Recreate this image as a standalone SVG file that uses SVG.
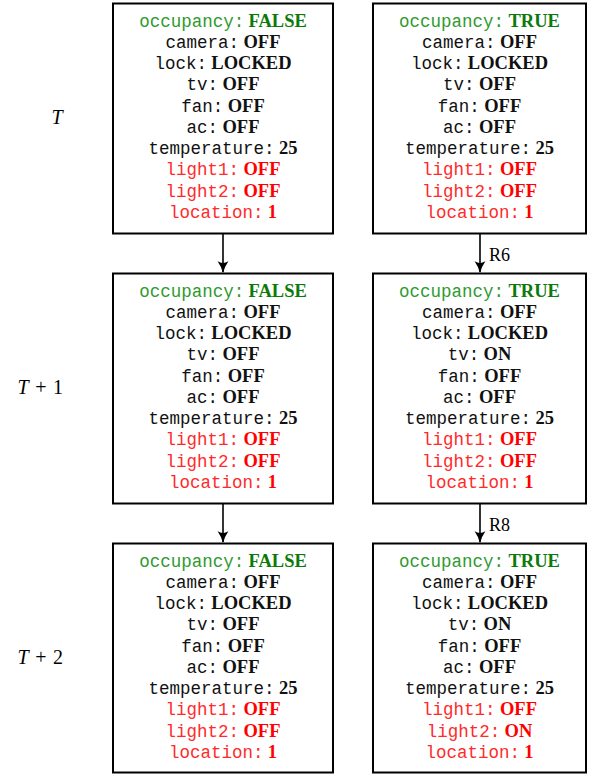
<svg xmlns="http://www.w3.org/2000/svg" width="590" height="774" viewBox="0 0 590 774">
<style>
.box{fill:#fff;stroke:#000;stroke-width:2}
.t{font-size:17.5px;text-anchor:middle}
.k{font-family:"Liberation Mono","DejaVu Sans Mono",monospace}
.v{font-family:"Liberation Serif","Times New Roman",serif;font-weight:bold;font-size:18.5px}
.g{fill:#2f9a2f}.gv{fill:#0b7a0b}
.r{fill:#ff2a2a}.rv{fill:#ff0000}
.b{fill:#111}
.lbl{font-family:"Liberation Serif","Times New Roman",serif;font-size:20px;text-anchor:middle}
.conn{stroke:#000;stroke-width:1.6;fill:none}
.rl{font-family:"Liberation Serif","Times New Roman",serif;font-size:18px}
</style>
<defs>
<marker id="ah" viewBox="0 0 10 10" refX="9" refY="5" markerWidth="12" markerHeight="12" markerUnits="userSpaceOnUse" orient="auto">
<path d="M0,0.5 Q5,4 10,5 Q5,6 0,9.5 Q3,5 0,0.5Z" fill="#000"/>
</marker>
</defs>
<g id="labels">
<text class="lbl" x="57" y="124" font-style="italic">T</text>
<text class="lbl" y="394"><tspan x="23" font-style="italic">T</tspan><tspan x="41">+</tspan><tspan x="58">1</tspan></text>
<text class="lbl" y="664"><tspan x="23" font-style="italic">T</tspan><tspan x="41">+</tspan><tspan x="58">2</tspan></text>
</g>
<g id="connectors">
<line class="conn" x1="223" y1="234" x2="223" y2="272" marker-end="url(#ah)"/>
<line class="conn" x1="223" y1="504" x2="223" y2="542" marker-end="url(#ah)"/>
<line class="conn" x1="480" y1="234" x2="480" y2="272" marker-end="url(#ah)"/>
<line class="conn" x1="480" y1="504" x2="480" y2="542" marker-end="url(#ah)"/>
<text class="rl" x="489" y="261">R6</text>
<text class="rl" x="489" y="531">R8</text>
</g>
<g id="n1" transform="translate(0,0)">
<rect class="box" x="113" y="3.5" width="220" height="230"/>
<g class="t">
<text x="223" y="26.5"><tspan class="k g">occupancy:</tspan> <tspan class="v gv">FALSE</tspan></text>
<text x="223" y="47.8"><tspan class="k b">camera:</tspan> <tspan class="v b">OFF</tspan></text>
<text x="223" y="69"><tspan class="k b">lock:</tspan> <tspan class="v b">LOCKED</tspan></text>
<text x="223" y="90.3"><tspan class="k b">tv:</tspan> <tspan class="v b">OFF</tspan></text>
<text x="223" y="111.5"><tspan class="k b">fan:</tspan> <tspan class="v b">OFF</tspan></text>
<text x="223" y="132.8"><tspan class="k b">ac:</tspan> <tspan class="v b">OFF</tspan></text>
<text x="223" y="154"><tspan class="k b">temperature:</tspan> <tspan class="v b">25</tspan></text>
<text x="223" y="175.3"><tspan class="k r">light1:</tspan> <tspan class="v rv">OFF</tspan></text>
<text x="223" y="196.6"><tspan class="k r">light2:</tspan> <tspan class="v rv">OFF</tspan></text>
<text x="223" y="217.8"><tspan class="k r">location:</tspan> <tspan class="v rv">1</tspan></text>
</g>
</g>
<g id="n2" transform="translate(0,270)">
<rect class="box" x="113" y="3.5" width="220" height="230"/>
<g class="t">
<text x="223" y="26.5"><tspan class="k g">occupancy:</tspan> <tspan class="v gv">FALSE</tspan></text>
<text x="223" y="47.8"><tspan class="k b">camera:</tspan> <tspan class="v b">OFF</tspan></text>
<text x="223" y="69"><tspan class="k b">lock:</tspan> <tspan class="v b">LOCKED</tspan></text>
<text x="223" y="90.3"><tspan class="k b">tv:</tspan> <tspan class="v b">OFF</tspan></text>
<text x="223" y="111.5"><tspan class="k b">fan:</tspan> <tspan class="v b">OFF</tspan></text>
<text x="223" y="132.8"><tspan class="k b">ac:</tspan> <tspan class="v b">OFF</tspan></text>
<text x="223" y="154"><tspan class="k b">temperature:</tspan> <tspan class="v b">25</tspan></text>
<text x="223" y="175.3"><tspan class="k r">light1:</tspan> <tspan class="v rv">OFF</tspan></text>
<text x="223" y="196.6"><tspan class="k r">light2:</tspan> <tspan class="v rv">OFF</tspan></text>
<text x="223" y="217.8"><tspan class="k r">location:</tspan> <tspan class="v rv">1</tspan></text>
</g>
</g>
<g id="n3" transform="translate(0,540)">
<rect class="box" x="113" y="3.5" width="220" height="229"/>
<g class="t">
<text x="223" y="26.5"><tspan class="k g">occupancy:</tspan> <tspan class="v gv">FALSE</tspan></text>
<text x="223" y="47.8"><tspan class="k b">camera:</tspan> <tspan class="v b">OFF</tspan></text>
<text x="223" y="69"><tspan class="k b">lock:</tspan> <tspan class="v b">LOCKED</tspan></text>
<text x="223" y="90.3"><tspan class="k b">tv:</tspan> <tspan class="v b">OFF</tspan></text>
<text x="223" y="111.5"><tspan class="k b">fan:</tspan> <tspan class="v b">OFF</tspan></text>
<text x="223" y="132.8"><tspan class="k b">ac:</tspan> <tspan class="v b">OFF</tspan></text>
<text x="223" y="154"><tspan class="k b">temperature:</tspan> <tspan class="v b">25</tspan></text>
<text x="223" y="175.3"><tspan class="k r">light1:</tspan> <tspan class="v rv">OFF</tspan></text>
<text x="223" y="196.6"><tspan class="k r">light2:</tspan> <tspan class="v rv">OFF</tspan></text>
<text x="223" y="217.8"><tspan class="k r">location:</tspan> <tspan class="v rv">1</tspan></text>
</g>
</g>
<g id="n4" transform="translate(0,0)">
<rect class="box" x="373" y="3.5" width="213" height="230"/>
<g class="t">
<text x="479.5" y="26.5"><tspan class="k g">occupancy:</tspan> <tspan class="v gv">TRUE</tspan></text>
<text x="479.5" y="47.8"><tspan class="k b">camera:</tspan> <tspan class="v b">OFF</tspan></text>
<text x="479.5" y="69"><tspan class="k b">lock:</tspan> <tspan class="v b">LOCKED</tspan></text>
<text x="479.5" y="90.3"><tspan class="k b">tv:</tspan> <tspan class="v b">OFF</tspan></text>
<text x="479.5" y="111.5"><tspan class="k b">fan:</tspan> <tspan class="v b">OFF</tspan></text>
<text x="479.5" y="132.8"><tspan class="k b">ac:</tspan> <tspan class="v b">OFF</tspan></text>
<text x="479.5" y="154"><tspan class="k b">temperature:</tspan> <tspan class="v b">25</tspan></text>
<text x="479.5" y="175.3"><tspan class="k r">light1:</tspan> <tspan class="v rv">OFF</tspan></text>
<text x="479.5" y="196.6"><tspan class="k r">light2:</tspan> <tspan class="v rv">OFF</tspan></text>
<text x="479.5" y="217.8"><tspan class="k r">location:</tspan> <tspan class="v rv">1</tspan></text>
</g>
</g>
<g id="n5" transform="translate(0,270)">
<rect class="box" x="373" y="3.5" width="213" height="230"/>
<g class="t">
<text x="479.5" y="26.5"><tspan class="k g">occupancy:</tspan> <tspan class="v gv">TRUE</tspan></text>
<text x="479.5" y="47.8"><tspan class="k b">camera:</tspan> <tspan class="v b">OFF</tspan></text>
<text x="479.5" y="69"><tspan class="k b">lock:</tspan> <tspan class="v b">LOCKED</tspan></text>
<text x="479.5" y="90.3"><tspan class="k b">tv:</tspan> <tspan class="v b">ON</tspan></text>
<text x="479.5" y="111.5"><tspan class="k b">fan:</tspan> <tspan class="v b">OFF</tspan></text>
<text x="479.5" y="132.8"><tspan class="k b">ac:</tspan> <tspan class="v b">OFF</tspan></text>
<text x="479.5" y="154"><tspan class="k b">temperature:</tspan> <tspan class="v b">25</tspan></text>
<text x="479.5" y="175.3"><tspan class="k r">light1:</tspan> <tspan class="v rv">OFF</tspan></text>
<text x="479.5" y="196.6"><tspan class="k r">light2:</tspan> <tspan class="v rv">OFF</tspan></text>
<text x="479.5" y="217.8"><tspan class="k r">location:</tspan> <tspan class="v rv">1</tspan></text>
</g>
</g>
<g id="n6" transform="translate(0,540)">
<rect class="box" x="373" y="3.5" width="213" height="229"/>
<g class="t">
<text x="479.5" y="26.5"><tspan class="k g">occupancy:</tspan> <tspan class="v gv">TRUE</tspan></text>
<text x="479.5" y="47.8"><tspan class="k b">camera:</tspan> <tspan class="v b">OFF</tspan></text>
<text x="479.5" y="69"><tspan class="k b">lock:</tspan> <tspan class="v b">LOCKED</tspan></text>
<text x="479.5" y="90.3"><tspan class="k b">tv:</tspan> <tspan class="v b">ON</tspan></text>
<text x="479.5" y="111.5"><tspan class="k b">fan:</tspan> <tspan class="v b">OFF</tspan></text>
<text x="479.5" y="132.8"><tspan class="k b">ac:</tspan> <tspan class="v b">OFF</tspan></text>
<text x="479.5" y="154"><tspan class="k b">temperature:</tspan> <tspan class="v b">25</tspan></text>
<text x="479.5" y="175.3"><tspan class="k r">light1:</tspan> <tspan class="v rv">OFF</tspan></text>
<text x="479.5" y="196.6"><tspan class="k r">light2:</tspan> <tspan class="v rv">ON</tspan></text>
<text x="479.5" y="217.8"><tspan class="k r">location:</tspan> <tspan class="v rv">1</tspan></text>
</g>
</g>
</svg>
